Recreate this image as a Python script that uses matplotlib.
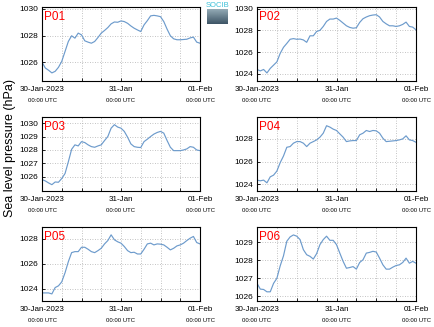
import numpy as np
import pandas as pd
import matplotlib
matplotlib.use("Agg")
import matplotlib.pyplot as plt
import matplotlib.dates as mdates

plt.rcParams['font.family'] = ['Liberation Sans', 'DejaVu Sans']

times = pd.date_range("2023-01-30 00:00", "2023-02-01 00:00", freq="h")

p01 = [1026.0, 1025.55, 1025.38, 1025.18, 1025.3, 1025.6, 1026.05, 1026.8, 1027.55, 1027.98,
       1027.8, 1028.18, 1028.05, 1027.6, 1027.5, 1027.42, 1027.55, 1027.85, 1028.18, 1028.38,
       1028.6, 1028.88, 1029.02, 1029.0, 1029.1, 1029.05, 1028.92, 1028.72, 1028.55, 1028.42,
       1028.3, 1028.8, 1029.12, 1029.48, 1029.52, 1029.48, 1029.42, 1029.05, 1028.48, 1027.98,
       1027.75, 1027.68, 1027.68, 1027.7, 1027.72, 1027.82, 1027.88, 1027.5, 1027.42]
p02 = [1024.4, 1024.27, 1024.4, 1024.08, 1024.5, 1024.8, 1025.1, 1025.88, 1026.44, 1026.8,
       1027.18, 1027.24, 1027.18, 1027.2, 1027.12, 1026.9, 1027.5, 1027.5, 1027.9, 1028.0,
       1028.36, 1028.82, 1029.04, 1029.04, 1029.13, 1028.92, 1028.67, 1028.42, 1028.27, 1028.2,
       1028.24, 1028.73, 1029.07, 1029.23, 1029.35, 1029.41, 1029.44, 1029.23, 1028.82, 1028.6,
       1028.42, 1028.42, 1028.36, 1028.42, 1028.55, 1028.76, 1028.36, 1028.3, 1028.05]
p03 = [1025.8, 1025.7, 1025.55, 1025.42, 1025.62, 1025.6, 1025.88, 1026.25, 1027.12, 1028.05,
       1028.38, 1028.3, 1028.62, 1028.55, 1028.38, 1028.25, 1028.2, 1028.3, 1028.38, 1028.7,
       1029.0, 1029.62, 1029.88, 1029.7, 1029.62, 1029.38, 1028.95, 1028.45, 1028.25, 1028.2,
       1028.18, 1028.62, 1028.8, 1029.0, 1029.18, 1029.3, 1029.38, 1029.25, 1028.7, 1028.2,
       1027.95, 1027.95, 1027.95, 1028.0, 1028.08, 1028.25, 1028.2, 1028.0, 1027.95]
p04 = [1024.36, 1024.3, 1024.36, 1024.12, 1024.65, 1024.8, 1025.16, 1025.9, 1026.49, 1027.26,
       1027.32, 1027.62, 1027.76, 1027.76, 1027.62, 1027.32, 1027.62, 1027.76, 1027.91, 1028.15,
       1028.5, 1029.16, 1029.04, 1028.86, 1028.74, 1028.44, 1028.15, 1027.76, 1027.82, 1027.85,
       1027.85, 1028.36, 1028.5, 1028.74, 1028.65, 1028.74, 1028.71, 1028.5, 1028.06, 1027.76,
       1027.79, 1027.82, 1027.85, 1027.91, 1028.0, 1028.27, 1027.91, 1027.85, 1027.7]
p05 = [1023.65, 1023.65, 1023.65, 1023.57, 1024.08, 1024.22, 1024.54, 1025.27, 1026.16, 1026.89,
       1026.97, 1026.97, 1027.32, 1027.32, 1027.16, 1026.97, 1026.89, 1027.05, 1027.24, 1027.59,
       1027.86, 1028.32, 1027.92, 1027.76, 1027.65, 1027.38, 1027.05, 1026.89, 1026.92, 1026.78,
       1026.78, 1027.16, 1027.59, 1027.65, 1027.51, 1027.59, 1027.57, 1027.51, 1027.32, 1027.11,
       1027.24, 1027.43, 1027.51, 1027.65, 1027.86, 1028.05, 1028.19, 1027.7, 1027.59]
p06 = [1026.71, 1026.39, 1026.37, 1026.24, 1026.24, 1026.71, 1026.99, 1027.68, 1028.24, 1029.05,
       1029.29, 1029.4, 1029.33, 1029.14, 1028.58, 1028.3, 1028.21, 1028.06, 1028.36, 1028.86,
       1029.14, 1029.33, 1029.1, 1029.1, 1028.86, 1028.39, 1027.93, 1027.55, 1027.59, 1027.64,
       1027.5, 1027.87, 1028.02, 1028.39, 1028.43, 1028.49, 1028.45, 1028.11, 1027.74, 1027.5,
       1027.5, 1027.61, 1027.7, 1027.74, 1027.87, 1028.11, 1027.83, 1027.93, 1027.83]

names = ["P01", "P02", "P03", "P04", "P05", "P06"]
series = [p01, p02, p03, p04, p05, p06]
yticks = [[1026, 1028, 1030], [1024, 1026, 1028, 1030], [1026, 1027, 1028, 1029, 1030],
          [1024, 1026, 1028], [1024, 1026, 1028], [1026, 1027, 1028, 1029]]
ylims = [(1024.57, 1030.15), (1023.34, 1030.15), (1024.95, 1030.45),
         (1023.4, 1029.93), (1023.0, 1028.95), (1025.73, 1029.84)]
date_ticks = pd.to_datetime(["2023-01-30", "2023-01-31", "2023-02-01"])
date_labels = ["30-Jan-2023", "31-Jan", "01-Feb"]

W, H = 434, 327
fig = plt.figure(figsize=(W / 100, H / 100), dpi=100)

lefts = [42, 257]
widths = [158, 159]
tops = [7, 117, 227]
ax_h = 74
line_color = "#6d9bcc"

for i, (name, vals) in enumerate(zip(names, series)):
    r, c = divmod(i, 2)
    ax = fig.add_axes([lefts[c] / W, 1 - (tops[r] + ax_h) / H, widths[c] / W, ax_h / H])
    ax.plot(times, vals, color=line_color, lw=0.85)
    ax.set_xlim(times[0], times[-1])
    ax.set_ylim(*ylims[i])
    ax.set_yticks(yticks[i])
    ax.set_xticks(date_ticks)
    ax.set_xticklabels(date_labels)
    ax.xaxis.set_minor_locator(mdates.HourLocator(byhour=[6, 12, 18]))
    ax.grid(True, which="both", ls=(0, (1, 2)), color="#b0b0b0", lw=0.6)
    ax.tick_params(axis="both", which="both", direction="in", length=2, width=0.6,
                   labelsize=6, pad=3)
    ax.tick_params(axis="x", labelsize=5.8, pad=3.5)
    for s in ax.spines.values():
        s.set_linewidth(0.8)
    for t in date_ticks:
        ax.annotate("00:00 UTC", xy=(mdates.date2num(t), 0), xycoords=ax.get_xaxis_transform(),
                    xytext=(0, -14), textcoords="offset points", ha="center", va="center",
                    fontsize=4.3)
    ax.text(0.015, 0.94, name, transform=ax.transAxes, color="red", fontsize=8.5,
            ha="left", va="top")

fig.text(10 / W, 1 - 148 / H, "Sea level pressure (hPa)", rotation=90, fontsize=9,
         ha="center", va="center")

# small logo
lax = fig.add_axes([207 / W, 1 - 24 / H, 21 / W, 17 / H])
grad = np.linspace(0, 1, 50).reshape(-1, 1)
lax.imshow(grad, aspect="auto", cmap=matplotlib.colors.LinearSegmentedColormap.from_list(
    "logo", ["#9fb6c0", "#3e5566"]))
lax.axis("off")
fig.text(217.5 / W, 1 - 5.5 / H, "SOCIB", color="#3cc0d8", fontsize=5.5, ha="center", va="center",
         bbox=dict(facecolor="white", edgecolor="none", pad=0.3))

fig.savefig("out.png", dpi=100)
